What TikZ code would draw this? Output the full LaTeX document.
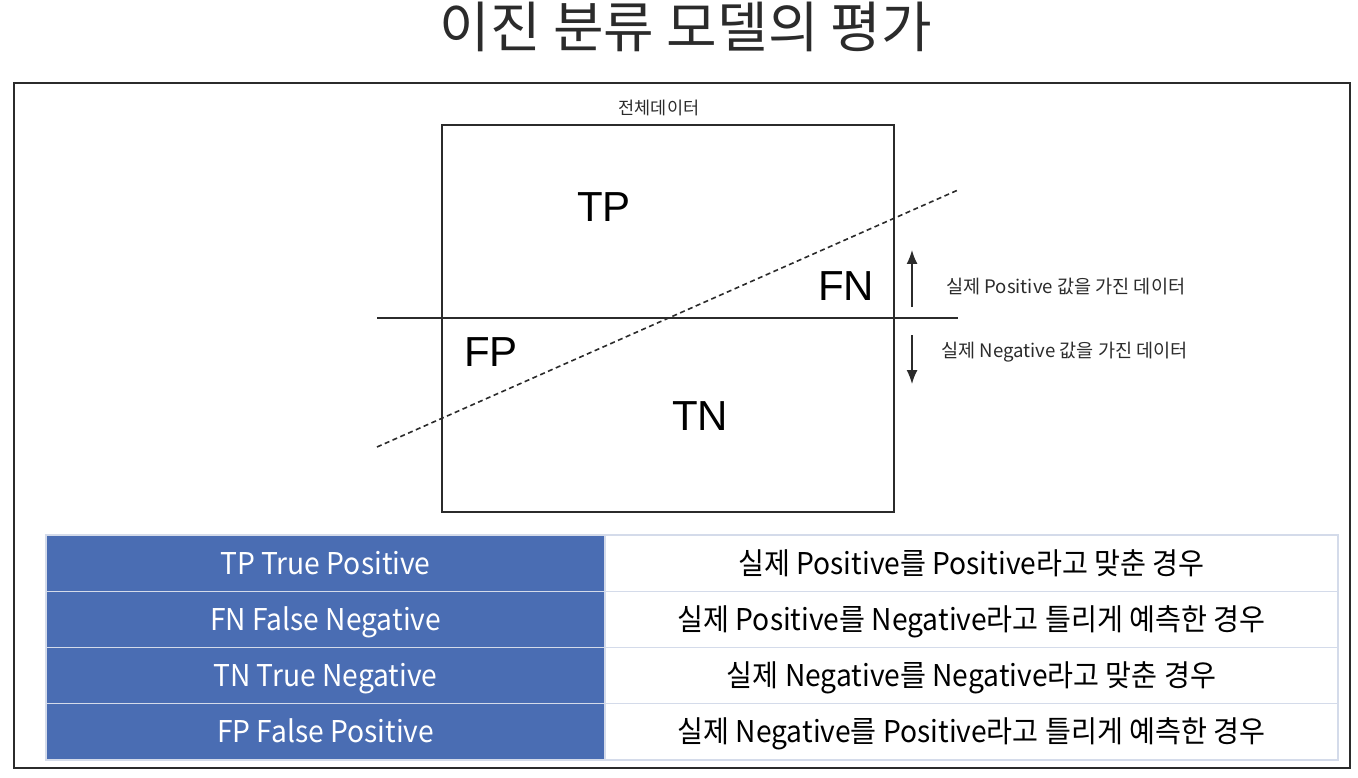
\documentclass[tikz,border=0pt]{standalone}
\usepackage{fontspec}
\setmainfont{Noto Sans CJK KR}
\newfontfamily\helv{Liberation Sans}
\newfontfamily\tblfont[FakeStretch=0.94]{Noto Sans CJK KR}
\usetikzlibrary{positioning,arrows.meta}
\definecolor{keyblue}{HTML}{4A6DB3}
\definecolor{gridline}{HTML}{D4DBEA}
\definecolor{inkgray}{HTML}{2B2B2B}

\begin{document}
\begin{tikzpicture}[
		x=1pt, y=-1pt,
		frame/.style = {draw=inkgray, line width=1.5pt},
		box/.style = {rectangle, draw=inkgray, line width=1.5pt, minimum width=452pt, minimum height=387pt, inner sep=0pt},
		quad/.style = {font=\helv\fontsize{42}{50}\selectfont, anchor=base, inner sep=0pt},
		note/.style = {font=\fontsize{18.6}{22}\selectfont, text=inkgray, anchor=west, inner sep=0pt},
		key/.style = {rectangle, draw=gridline, fill=keyblue, text=white, line width=1.2pt, minimum width=559pt, minimum height=56.25pt, inner sep=0pt, outer sep=0pt, font=\tblfont\fontsize{30}{36}\selectfont, text height=23pt, text depth=1pt},
		desc/.style = {key, fill=white, text=black, minimum width=733pt},
		r/.style = {-{Latex[length=14pt,width=11pt]}, line width=1.5pt, draw=inkgray},
		cut/.style = {line width=1.6pt, draw=inkgray},
		guess/.style = {cut, dash pattern=on 5pt off 3.5pt}
		]
		\useasboundingbox (0,0) rectangle (1358,778);
		
		%Title and frame
		\node[font=\fontsize{55}{64}\selectfont, text=inkgray]	(title)	at	(686, 27)	{이진 분류 모델의 평가};
		\draw[frame]	(14, 83) rectangle (1350, 768);
		
		%Nodes
		\node[box]	(all)	at	(668, 318.5)	{};
		\node[font=\fontsize{17.5}{20}\selectfont, text=inkgray]	(alltitle)	at	(659, 108)	{전체데이터};
		\node[quad]	(tp)	at	(604, 222)	{TP};
		\node[quad]	(fn)	at	(846, 300)	{FN};
		\node[quad]	(fp)	at	(491, 366)	{FP};
		\node[quad]	(tn)	at	(700, 430)	{TN};
		\node[note]	(posnote)	at	(946, 287)	{실제 Positive 값을 가진 데이터};
		\node[note]	(negnote)	at	(941, 352)	{실제 Negative 값을 가진 데이터};
		
		\coordinate	(hl)	at	(377, 318);
		\coordinate	(hr)	at	(958, 318);
		\coordinate	(dl)	at	(377, 447);
		\coordinate	(dr)	at	(958, 190);
		\coordinate	(upfrom)	at	(912, 307);
		\coordinate	(upto)	at	(912, 250);
		\coordinate	(dnfrom)	at	(912, 335);
		\coordinate	(dnto)	at	(912, 384);
		
		%Lines
		\draw[cut]	(hl)	--	(hr);
		\draw[guess]	(dl)	--	(dr);
		\draw[r]	(upfrom)	--	(upto);
		\draw[r]	(dnfrom)	--	(dnto);
		
		%Table
		\node[key, anchor=north west]	(tpk)	at	(46, 535)	{TP True Positive};
		\node[key, below=0pt of tpk]	(fnk)	{FN False Negative};
		\node[key, below=0pt of fnk]	(tnk)	{TN True Negative};
		\node[key, below=0pt of tnk]	(fpk)	{FP False Positive};
		\node[desc, right=0pt of tpk]	(tpd)	{실제 Positive를 Positive라고 맞춘 경우};
		\node[desc, right=0pt of fnk]	(fnd)	{실제 Positive를 Negative라고 틀리게 예측한 경우};
		\node[desc, right=0pt of tnk]	(tnd)	{실제 Negative를 Negative라고 맞춘 경우};
		\node[desc, right=0pt of fpk]	(fpd)	{실제 Negative를 Positive라고 틀리게 예측한 경우};
	\end{tikzpicture}
\end{document}
